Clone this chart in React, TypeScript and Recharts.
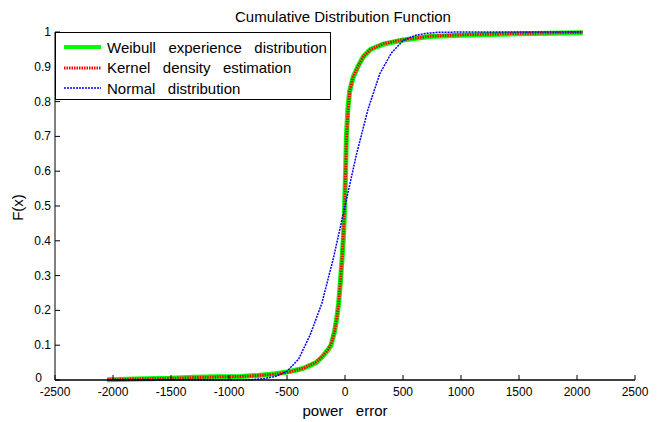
import { Legend, Line, LineChart, XAxis, YAxis } from "recharts";

const FONT = "'Liberation Sans', Arial, Helvetica, sans-serif";

const xTicks = [-2500, -2000, -1500, -1000, -500, 0, 500, 1000, 1500, 2000, 2500];
const yTicks = [0, 0.1, 0.2, 0.3, 0.4, 0.5, 0.6, 0.7, 0.8, 0.9, 1];

const weibullX = [-2050, -1800, -1500, -1300, -1100, -900, -750, -600, -500, -400, -350, -300, -250, -200, -150, -120, -90, -70, -55, -40, -25, -12, -3, 5, 12, 25, 40, 70, 110, 160, 220, 330, 500, 730, 1000, 1500, 2050];
const weibullF = [0.001, 0.003, 0.005, 0.008, 0.009, 0.01, 0.013, 0.018, 0.023, 0.03, 0.035, 0.042, 0.05, 0.065, 0.085, 0.1, 0.14, 0.18, 0.22, 0.28, 0.35, 0.42, 0.5, 0.6, 0.7, 0.78, 0.83, 0.87, 0.9, 0.93, 0.95, 0.965, 0.977, 0.987, 0.991, 0.995, 0.998];

// kernel estimate sits right on top of the empirical curve
const kernelX = [-2050, -1800, -1500, -1300, -1100, -900, -750, -600, -500, -400, -350, -300, -250, -200, -150, -120, -90, -70, -55, -40, -25, -12, -3, 5, 12, 25, 40, 70, 110, 160, 220, 330, 500, 730, 1000, 1500, 2050];
const kernelF = [0.001, 0.003, 0.005, 0.007, 0.009, 0.01, 0.013, 0.017, 0.022, 0.03, 0.035, 0.043, 0.051, 0.066, 0.086, 0.102, 0.14, 0.18, 0.22, 0.28, 0.35, 0.43, 0.5, 0.6, 0.69, 0.77, 0.83, 0.87, 0.9, 0.93, 0.95, 0.966, 0.978, 0.988, 0.992, 0.996, 0.999];

const normalX = [-2050, -1000, -800, -700, -600, -500, -400, -300, -200, -100, 0, 100, 200, 300, 400, 500, 600, 700, 800, 1000, 2050];
const normalF = [0, 0, 0.001, 0.004, 0.01, 0.025, 0.06, 0.13, 0.22, 0.35, 0.5, 0.65, 0.78, 0.88, 0.94, 0.975, 0.99, 0.996, 0.999, 1, 1];

const seriesNames = ["Weibull   experience   distribution", "Kernel   density   estimation", "Normal   distribution"];

const weibullData = weibullX.map((x, i) => ({ x, f: weibullF[i] }));
const kernelData = kernelX.map((x, i) => ({ x, f: kernelF[i] }));
const normalData = normalX.map((x, i) => ({ x, f: normalF[i] }));

function BottomTick({ x, y, payload }: any) {
  return (
    <g>
      <line x1={x} y1={y} x2={x} y2={y - 5} stroke="#000" />
      <text x={x} y={y + 16} textAnchor="middle" fontSize={12} fontFamily={FONT} fill="#000">
        {payload.value}
      </text>
    </g>
  );
}

function TopTick({ x, y }: any) {
  return <line x1={x} y1={y} x2={x} y2={y + 5} stroke="#000" />;
}

function LeftTick({ x, y, payload }: any) {
  // matlab pushes the bottom "0" a bit further left
  const isZero = payload.value === 0;
  return (
    <g>
      <line x1={x} y1={y} x2={x + 5} y2={y} stroke="#000" />
      <text
        x={isZero ? x - 13 : x - 4}
        y={isZero ? y + 2 : y + 4}
        textAnchor="end"
        fontSize={12}
        fontFamily={FONT}
        fill="#000"
      >
        {payload.value}
      </text>
    </g>
  );
}

function RightTick({ x, y }: any) {
  return <line x1={x} y1={y} x2={x - 5} y2={y} stroke="#000" />;
}

function LegendBox() {
  const samples = [
    { stroke: "#00ff00", width: 4, dash: undefined },
    { stroke: "#ff0000", width: 3, dash: "1.5 1" },
    { stroke: "#0000ff", width: 1.5, dash: "2 1" },
  ];
  return (
    <div
      style={{
        width: 276,
        height: 68,
        border: "1.5px solid #000",
        background: "#fff",
        fontFamily: FONT,
        fontSize: 15,
        boxSizing: "border-box",
        paddingTop: 4,
      }}
    >
      {seriesNames.map((name, i) => (
        <div key={name} style={{ display: "flex", alignItems: "center", height: 20.5 }}>
          <svg width={50} height={10} style={{ marginLeft: 8 }}>
            <line
              x1={0}
              y1={5}
              x2={37}
              y2={5}
              stroke={samples[i].stroke}
              strokeWidth={samples[i].width}
              strokeDasharray={samples[i].dash}
            />
          </svg>
          <span style={{ whiteSpace: "pre", marginLeft: -7 }}>{name}</span>
        </div>
      ))}
    </div>
  );
}

export default function App() {
  return (
    <div style={{ position: "absolute", left: 0, top: 0, width: 666, height: 422, background: "#fff" }}>
      <div
        style={{
          position: "absolute",
          left: 0,
          width: 686,
          top: 8,
          textAlign: "center",
          fontFamily: FONT,
          fontSize: 15,
        }}
      >
        Cumulative Distribution Function
      </div>
      <div
        style={{
          position: "absolute",
          left: 4,
          top: 199,
          fontFamily: FONT,
          fontSize: 15,
          transform: "rotate(-90deg)",
        }}
      >
        F(x)
      </div>
      <div
        style={{
          position: "absolute",
          left: 0,
          width: 690,
          top: 402,
          textAlign: "center",
          fontFamily: FONT,
          fontSize: 15,
          whiteSpace: "pre",
        }}
      >
        power   error
      </div>
      <LineChart width={666} height={422} margin={{ top: 32, right: 31, bottom: 12, left: 15 }}>
        <XAxis
          dataKey="x"
          type="number"
          domain={[-2500, 2500]}
          ticks={xTicks}
          allowDataOverflow
          height={30}
          tickSize={0}
          tickMargin={0}
          tickLine={false}
          axisLine={{ stroke: "#000", strokeWidth: 1.5 }}
          tick={<BottomTick />}
        />
        <XAxis
          xAxisId="top"
          orientation="top"
          type="number"
          domain={[-2500, 2500]}
          ticks={xTicks}
          height={0}
          tickSize={0}
          tickMargin={0}
          tickLine={false}
          axisLine={{ stroke: "#000" }}
          tick={<TopTick />}
        />
        <YAxis
          type="number"
          domain={[0, 1]}
          ticks={yTicks}
          width={40}
          tickSize={0}
          tickMargin={0}
          tickLine={false}
          axisLine={{ stroke: "#000" }}
          tick={<LeftTick />}
        />
        <YAxis
          yAxisId="right"
          orientation="right"
          type="number"
          domain={[0, 1]}
          ticks={yTicks}
          width={0}
          tickSize={0}
          tickMargin={0}
          tickLine={false}
          axisLine={{ stroke: "#000", strokeWidth: 1.5 }}
          tick={<RightTick />}
        />
        <Line
          data={weibullData}
          dataKey="f"
          type="linear"
          stroke="#00ff00"
          strokeWidth={5}
          dot={false}
          isAnimationActive={false}
        />
        <Line
          data={kernelData}
          dataKey="f"
          type="linear"
          stroke="#ff0000"
          strokeWidth={3}
          strokeDasharray="1.5 1"
          dot={false}
          isAnimationActive={false}
        />
        <Line
          data={normalData}
          dataKey="f"
          type="linear"
          stroke="#0000ff"
          strokeWidth={1.5}
          strokeDasharray="2 1"
          dot={false}
          isAnimationActive={false}
        />
        <Legend
          layout="vertical"
          align="center"
          verticalAlign="middle"
          wrapperStyle={{ left: 55, top: 32, width: 276 }}
          content={() => <LegendBox />}
        />
      </LineChart>
    </div>
  );
}
